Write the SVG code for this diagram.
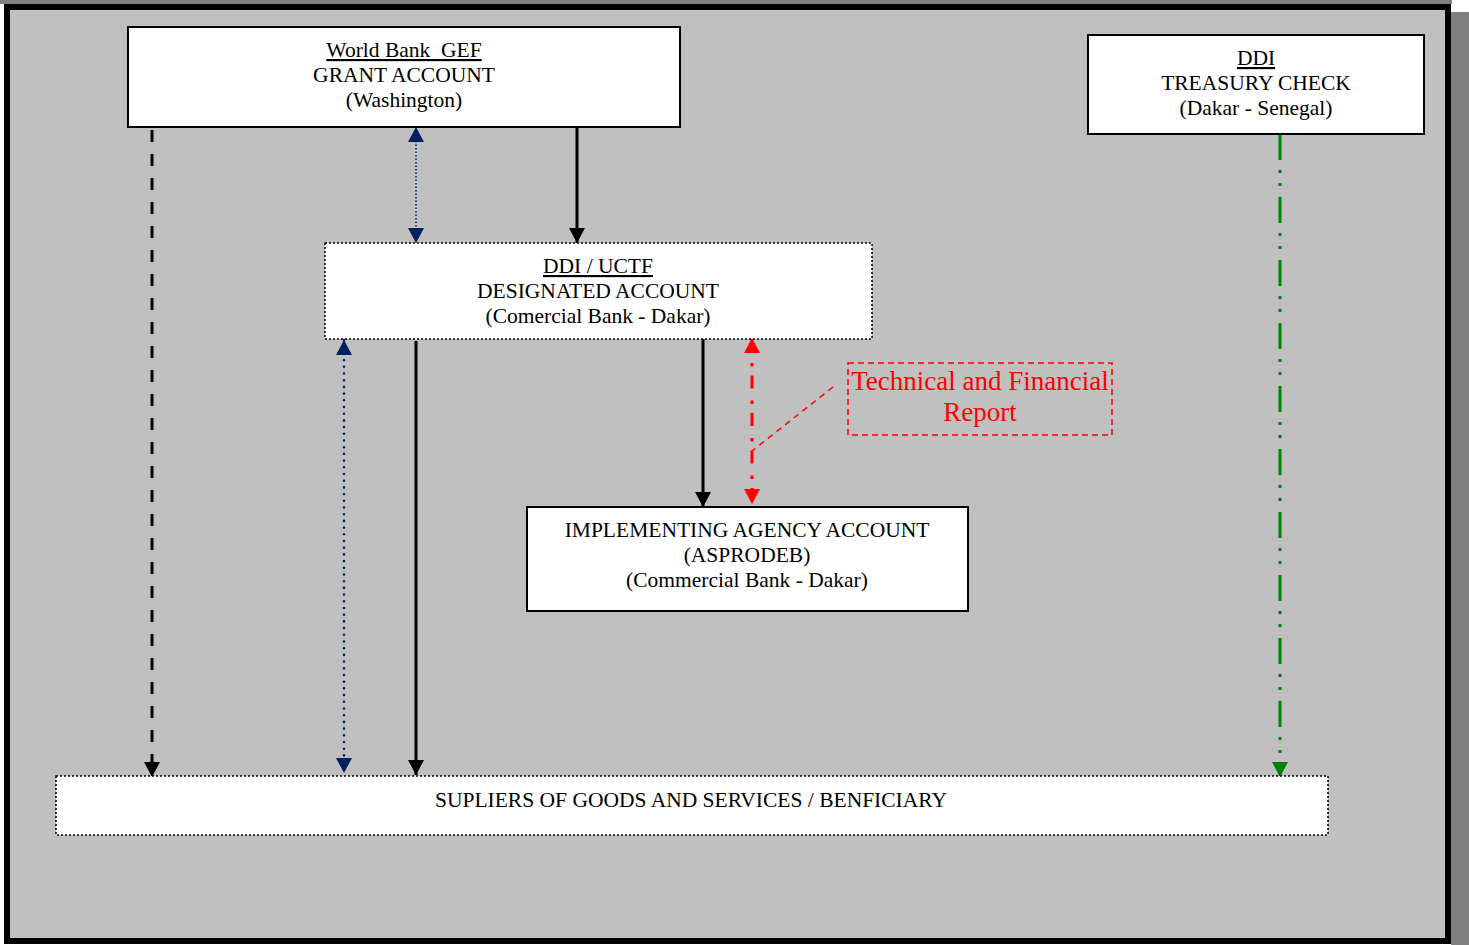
<svg xmlns="http://www.w3.org/2000/svg" width="1469" height="945" viewBox="0 0 1469 945">
<style>
  .t { font-family: "Liberation Serif", "Times New Roman", serif; font-size: 21.5px; fill: #000; text-anchor: middle; }
  .u { text-decoration: underline; }
  .red { font-family: "Liberation Serif", "Times New Roman", serif; font-size: 27px; fill: #ff0000; text-anchor: middle; }
  .solidbox { fill: #fff; stroke: #000; stroke-width: 2; }
  .dotbox { fill: #fff; stroke: #000; stroke-width: 1.5; stroke-dasharray: 2 2; }
  .blk { stroke: #000; stroke-width: 3; fill: none; }
  .dash { stroke-dasharray: 12 12; }
  .navy { stroke: #002060; fill: none; }
  .green { stroke: #008000; stroke-width: 3; fill: none; stroke-dasharray: 26 10 3 10 3 11; }
  .redl { stroke: #ff0000; stroke-width: 3; fill: none; stroke-dasharray: 13 12 3.5 9; }
</style>
<defs>
  <marker id="aBlack" viewBox="0 0 15 16" refX="15" refY="8" markerWidth="15" markerHeight="16" markerUnits="userSpaceOnUse" orient="auto-start-reverse">
    <path d="M0,0 L15,8 L0,16 z" fill="#000"/>
  </marker>
  <marker id="aNavy" viewBox="0 0 15 16" refX="15" refY="8" markerWidth="15" markerHeight="16" markerUnits="userSpaceOnUse" orient="auto-start-reverse">
    <path d="M0,0 L15,8 L0,16 z" fill="#002060"/>
  </marker>
  <marker id="aRed" viewBox="0 0 15 16" refX="15" refY="8" markerWidth="15" markerHeight="16" markerUnits="userSpaceOnUse" orient="auto-start-reverse">
    <path d="M0,0 L15,8 L0,16 z" fill="#ff0000"/>
  </marker>
  <marker id="aGreen" viewBox="0 0 15 16" refX="15" refY="8" markerWidth="15" markerHeight="16" markerUnits="userSpaceOnUse" orient="auto-start-reverse">
    <path d="M0,0 L15,8 L0,16 z" fill="#008000"/>
  </marker>
</defs>

<g id="frame">
  <rect x="0" y="0" width="1469" height="945" fill="#ffffff"/>
  <rect x="0" y="0" width="1452" height="4" fill="#808080"/>
  <rect x="1451" y="12" width="18" height="933" fill="#808080"/>
  <rect x="7" y="7" width="1441" height="934" fill="#c0c0c0" stroke="#000" stroke-width="6"/>
</g>

<g id="connectors">
  <line class="blk dash" x1="152" y1="130" x2="152" y2="777" marker-end="url(#aBlack)"/>
  <line class="navy" stroke-width="1.5" stroke-dasharray="1.5 2" x1="416" y1="127" x2="416" y2="243" marker-start="url(#aNavy)" marker-end="url(#aNavy)"/>
  <line class="blk" x1="577" y1="123" x2="577" y2="243" marker-end="url(#aBlack)"/>
  <line class="navy" stroke-width="2.6" stroke-linecap="round" stroke-dasharray="0 6.7" x1="344" y1="340" x2="344" y2="773" marker-start="url(#aNavy)" marker-end="url(#aNavy)"/>
  <line class="blk" x1="416" y1="341" x2="416" y2="775" marker-end="url(#aBlack)"/>
  <line class="blk" x1="703" y1="339" x2="703" y2="507" marker-end="url(#aBlack)"/>
  <line class="redl" x1="752" y1="338" x2="752" y2="504" marker-start="url(#aRed)" marker-end="url(#aRed)"/>
  <line x1="833" y1="387" x2="752" y2="451" stroke="#ff0000" stroke-width="1.5" stroke-dasharray="6 5"/>
  <line class="green" x1="1280" y1="134" x2="1280" y2="777" marker-end="url(#aGreen)"/>
</g>

<g id="node-worldbank">
  <rect class="solidbox" x="128" y="27" width="552" height="100"/>
  <text class="t u" x="404" y="57" style="white-space:pre">World Bank  GEF</text>
  <text class="t" x="404" y="82">GRANT ACCOUNT</text>
  <text class="t" x="404" y="107">(Washington)</text>
</g>

<g id="node-treasury">
  <rect class="solidbox" x="1088" y="35" width="336" height="99"/>
  <text class="t u" x="1256" y="65">DDI</text>
  <text class="t" x="1256" y="90">TREASURY CHECK</text>
  <text class="t" x="1256" y="115">(Dakar - Senegal)</text>
</g>

<g id="node-designated">
  <rect class="dotbox" x="325" y="243" width="547" height="96"/>
  <text class="t u" x="598" y="273">DDI / UCTF</text>
  <text class="t" x="598" y="298">DESIGNATED ACCOUNT</text>
  <text class="t" x="598" y="323">(Comercial Bank - Dakar)</text>
</g>

<g id="node-report">
  <rect x="848" y="363" width="264" height="72" fill="none" stroke="#ff0000" stroke-width="1.5" stroke-dasharray="6 4"/>
  <text class="red" x="980" y="390">Technical and Financial</text>
  <text class="red" x="980" y="421">Report</text>
</g>

<g id="node-implementing">
  <rect class="solidbox" x="527" y="507" width="441" height="104"/>
  <text class="t" x="747" y="537">IMPLEMENTING AGENCY ACCOUNT</text>
  <text class="t" x="747" y="562">(ASPRODEB)</text>
  <text class="t" x="747" y="587">(Commercial Bank - Dakar)</text>
</g>

<g id="node-suppliers">
  <rect class="dotbox" x="56" y="776" width="1272" height="59"/>
  <text class="t" x="691" y="807">SUPLIERS OF GOODS AND SERVICES / BENFICIARY</text>
</g>
</svg>
